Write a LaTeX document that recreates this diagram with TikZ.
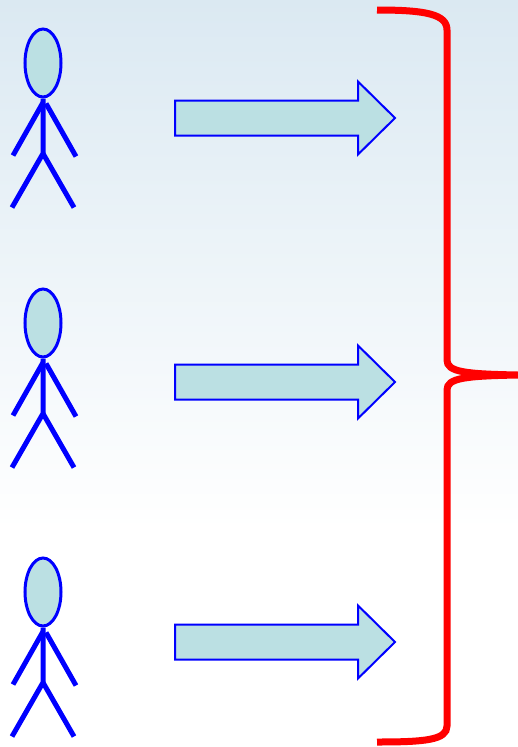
\documentclass[tikz,border=0pt]{standalone}
\usetikzlibrary{shapes.geometric, positioning}
\definecolor{headfill}{RGB}{187,224,227}
\definecolor{skytop}{RGB}{219,233,242}

\begin{document}
\begin{tikzpicture}[x=0.75pt,y=-0.75pt]
    \tikzstyle{head}=[shape=ellipse,draw=blue,fill=headfill,line width=2.25pt,inner sep=0pt,minimum width=27pt,minimum height=51pt]
    \tikzstyle{limb}=[draw=blue,line width=3.75pt]
    \tikzstyle{bigarrow}=[draw=blue,fill=headfill,line width=1.5pt,line join=miter]
    \tikzstyle{brace}=[draw=red,line width=5.25pt]

    \useasboundingbox (0,0) rectangle (518,747);
    \fill[top color=skytop,bottom color=white] (0,0) rectangle (518,530);
    \fill[white] (0,530) rectangle (518,747);

    % first person
    \node[head] (head1) at (43,63) {};
    \draw[limb] (head1.south) -- ++(0,55) coordinate (hip1) -- ++(-31,54);
    \draw[limb] (hip1) -- ++(31,54);
    \draw[limb] ([yshift=-3pt]head1.south) -- ++(-30,53);
    \draw[limb] ([xshift=2.25pt,yshift=-3.75pt]head1.south) -- ++(30,53);

    % second person
    \node[head] (head2) at (43,323) {};
    \draw[limb] (head2.south) -- ++(0,55) coordinate (hip2) -- ++(-31,54);
    \draw[limb] (hip2) -- ++(31,54);
    \draw[limb] ([yshift=-3pt]head2.south) -- ++(-30,53);
    \draw[limb] ([xshift=2.25pt,yshift=-3.75pt]head2.south) -- ++(30,53);

    % third person
    \node[head] (head3) at (43,592) {};
    \draw[limb] (head3.south) -- ++(0,55) coordinate (hip3) -- ++(-31,54);
    \draw[limb] (hip3) -- ++(31,54);
    \draw[limb] ([yshift=-3pt]head3.south) -- ++(-30,53);
    \draw[limb] ([xshift=2.25pt,yshift=-3.75pt]head3.south) -- ++(30,53);

    % arrows
    \coordinate (arrow1) at (175,118);
    \coordinate (arrow2) at (175,382);
    \coordinate (arrow3) at (175,642);
    \draw[bigarrow] (arrow1) ++(0,-17.5) -- ++(183,0) -- ++(0,-19) -- ++(37,36.5)
        -- ++(-37,36.5) -- ++(0,-19) -- ++(-183,0) -- cycle;
    \draw[bigarrow] (arrow2) ++(0,-17.5) -- ++(183,0) -- ++(0,-19) -- ++(37,36.5)
        -- ++(-37,36.5) -- ++(0,-19) -- ++(-183,0) -- cycle;
    \draw[bigarrow] (arrow3) ++(0,-17.5) -- ++(183,0) -- ++(0,-19) -- ++(37,36.5)
        -- ++(-37,36.5) -- ++(0,-19) -- ++(-183,0) -- cycle;

    % brace
    \coordinate (tip) at (518,375);
    \draw[brace] (377,10) .. controls (425,10) and (447,14) .. (447,30)
        -- (447,360) .. controls (447,372) and (465,374) .. (tip)
        .. controls (465,376) and (447,378) .. (447,390)
        -- (447,726) .. controls (447,740) and (425,742) .. (377,742);
\end{tikzpicture}
\end{document}
